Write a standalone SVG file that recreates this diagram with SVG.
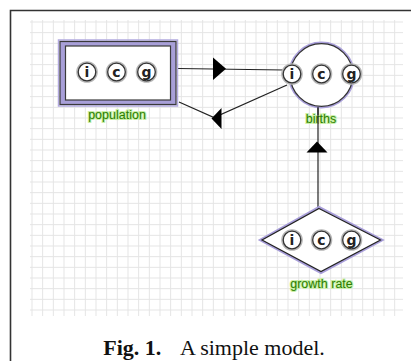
<svg xmlns="http://www.w3.org/2000/svg" width="411" height="361" viewBox="0 0 411 361">
  <style>
    .frame { fill: none; stroke: #333; stroke-width: 1.6; }
    .gridline { stroke: #e4e4e4; stroke-width: 1; fill: none; }
    .halo { fill: none; stroke: #a99fda; stroke-width: 2.2; }
    .icon-ring { fill: #fff; stroke: #b5b5b5; stroke-width: 2.4; }
    .icon-core { fill: #fff; stroke: #333; stroke-width: 1.3; }
    .icon-txt { font-family: "DejaVu Sans", "Liberation Sans", sans-serif; font-weight: bold; font-size: 14px; fill: #222; text-anchor: middle; }
    .label { font-family: "Liberation Sans", Arial, sans-serif; font-size: 12.5px; fill: #2a7d00; stroke: #c9efa6; stroke-width: 2.2; paint-order: stroke; text-anchor: middle; }
    .wire { fill: none; stroke: #222; stroke-width: 1.2; }
    .head { fill: #000; }
    .caption { font-family: "Liberation Serif", "Times New Roman", serif; font-size: 22px; fill: #111; }
  </style>
  <defs>
    <pattern id="grid" x="31.5" y="21.5" width="10.667" height="10.667" patternUnits="userSpaceOnUse">
      <path class="gridline" d="M0.5,0 V10.667 M0,0.5 H10.667"/>
    </pattern>
    <g id="icons">
      <circle class="icon-ring" cx="0" cy="0" r="9.6"/>
      <circle class="icon-core" cx="0" cy="0" r="8.8"/>
      <text class="icon-txt" x="0" y="5">i</text>
      <circle class="icon-ring" cx="29.5" cy="0" r="9.6"/>
      <circle class="icon-core" cx="29.5" cy="0" r="8.8"/>
      <text class="icon-txt" x="29.5" y="5">c</text>
      <circle class="icon-ring" cx="59.5" cy="0" r="9.6"/>
      <circle class="icon-core" cx="59.5" cy="0" r="8.8"/>
      <text class="icon-txt" x="59.5" y="4.6">g</text>
    </g>
  </defs>

  <!-- page background and figure frame -->
  <rect x="0" y="0" width="411" height="361" fill="#fff"/>
  <path class="frame" d="M10.5,361 V10.5 H411"/>

  <!-- canvas grid -->
  <rect x="30" y="20" width="373" height="296" fill="url(#grid)"/>

  <!-- connectors -->
  <g id="connectors">
    <path class="wire" d="M318,209 V107"/>
    <polygon class="head" points="306.5,152.5 317,141.5 327.5,152.5"/>
    <path class="wire" d="M178,68.5 L284,70"/>
    <polygon class="head" points="213,57.5 226,68.8 213,80"/>
    <path class="wire" d="M287,85 L214,117.5 L179,102"/>
    <polygon class="head" points="221.5,108 211.5,118.5 221.5,129"/>
  </g>

  <!-- stock: population -->
  <g id="population">
    <rect x="58.5" y="40" width="119" height="66" fill="none" stroke="#b3aae0" stroke-width="1.5"/>
    <rect x="60" y="41.5" width="116" height="63" fill="#a89fd8" stroke="#3a3a3a" stroke-width="1.2"/>
    <rect x="65.5" y="46" width="105" height="54" fill="#fff" stroke="#3a3a3a" stroke-width="1.2"/>
    <use href="#icons" x="87" y="72"/>
    <text class="label" x="117" y="119">population</text>
  </g>

  <!-- flow: births -->
  <g id="births">
    <circle class="halo" cx="321.5" cy="75" r="32.3"/>
    <circle cx="321.5" cy="75" r="31.3" fill="#fff" stroke="#333" stroke-width="1.3"/>
    <use href="#icons" x="292" y="74"/>
    <text class="label" x="321" y="122.5">births</text>
    <path class="wire" d="M318,107 V124"/>
  </g>

  <!-- parameter: growth rate -->
  <g id="growth-rate">
    <polygon points="319,207 382.5,240 321,273 260,240" fill="none" stroke="#a99fda" stroke-width="2.2"/>
    <polygon points="319,208.5 380.5,240 321,271.5 262,240" fill="#fff" stroke="#222" stroke-width="1.2"/>
    <use href="#icons" x="292" y="240"/>
    <text class="label" x="321.5" y="288">growth rate</text>
  </g>

  <!-- caption -->
  <text class="caption" x="103.3" y="355" font-weight="bold">Fig. 1.</text>
  <text class="caption" x="180" y="355">A simple model.</text>
</svg>
